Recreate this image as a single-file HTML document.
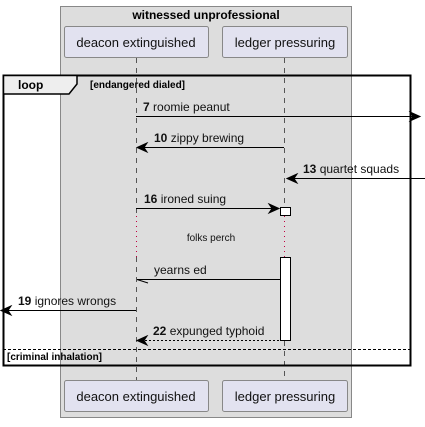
<!DOCTYPE html>
<html><head><style>body{margin:0;background:#fff}</style></head><body>
<svg width="425" height="422" xmlns="http://www.w3.org/2000/svg" font-family="Liberation Sans, sans-serif">
<rect x="60.5" y="6.5" width="291" height="411" fill="#dddddd" stroke="#888" stroke-width="1"/>
<text x="206" y="19" font-size="12" font-weight="bold" text-anchor="middle">witnessed unprofessional</text>
<rect x="64.5" y="26.5" width="144" height="31" rx="2" fill="#e2e2f0" stroke="#888"/>
<text x="136" y="47" font-size="13" text-anchor="middle" fill="#111">deacon extinguished</text>
<rect x="222.5" y="26.5" width="125" height="31" rx="2" fill="#e2e2f0" stroke="#888"/>
<text x="285" y="47" font-size="13" text-anchor="middle" fill="#111">ledger pressuring</text>
<rect x="64.5" y="380.5" width="144" height="31" rx="2" fill="#e2e2f0" stroke="#888"/>
<text x="136" y="401" font-size="13" text-anchor="middle" fill="#111">deacon extinguished</text>
<rect x="222.5" y="380.5" width="125" height="31" rx="2" fill="#e2e2f0" stroke="#888"/>
<text x="285" y="401" font-size="13" text-anchor="middle" fill="#111">ledger pressuring</text>
<g stroke="#555" stroke-dasharray="5,5">
<line x1="136.5" y1="58" x2="136.5" y2="215"/><line x1="136.5" y1="257" x2="136.5" y2="380"/>
<line x1="284.5" y1="58" x2="284.5" y2="207"/><line x1="284.5" y1="341" x2="284.5" y2="380"/>
</g>
<g stroke="#c00040" stroke-dasharray="1,4">
<line x1="136.5" y1="216" x2="136.5" y2="257"/><line x1="284.5" y1="216" x2="284.5" y2="257"/>
</g>
<rect x="3.5" y="75.5" width="407" height="290" fill="none" stroke="#000" stroke-width="2"/>
<path d="M3.5 75.5 H77 V84 L69 94 H3.5 Z" fill="#eee" stroke="#000" stroke-width="1.5"/>
<text x="18" y="89" font-size="12" font-weight="bold">loop</text>
<text x="90" y="88" font-size="10" font-weight="bold">[endangered dialed]</text>
<line x1="3" y1="349.5" x2="410" y2="349.5" stroke="#000" stroke-dasharray="3,2"/>
<text x="7" y="360" font-size="10" font-weight="bold">[criminal inhalation]</text>
<rect x="280.5" y="207.5" width="10" height="8" fill="#fff" stroke="#000"/>
<rect x="280.5" y="257.5" width="10" height="83" fill="#fff" stroke="#000"/>
<g stroke="#000" fill="none" font-size="12">
<line x1="136" y1="116.5" x2="420" y2="116.5"/><path d="M410 112 L420 116.5 L410 121 L413 116.5Z" fill="#000"/>
<line x1="137" y1="147.5" x2="284" y2="147.5"/><path d="M147 143 L137 147.5 L147 152 L144 147.5Z" fill="#000"/>
<line x1="287" y1="178.5" x2="425" y2="178.5"/><path d="M297 174 L287 178.5 L297 183 L294 178.5Z" fill="#000"/>
<line x1="136" y1="208.5" x2="279" y2="208.5"/><path d="M269 204 L279 208.5 L269 213 L272 208.5Z" fill="#000"/>
<line x1="137" y1="279.5" x2="280" y2="279.5"/><line x1="137" y1="279.5" x2="148" y2="283"/>
<line x1="1" y1="310.5" x2="136" y2="310.5"/><path d="M11 306 L1 310.5 L11 315 L8 310.5Z" fill="#000"/>
<line x1="137" y1="340.5" x2="280" y2="340.5" stroke-dasharray="2,2"/><path d="M147 336 L137 340.5 L147 345 L144 340.5Z" fill="#000"/>
</g>
<g font-size="12" fill="#111">
<text x="143" y="111"><tspan font-weight="bold">7</tspan> roomie peanut</text>
<text x="154" y="142"><tspan font-weight="bold">10</tspan> zippy brewing</text>
<text x="303" y="173"><tspan font-weight="bold">13</tspan> quartet squads</text>
<text x="144" y="203"><tspan font-weight="bold">16</tspan> ironed suing</text>
<text x="154" y="274">yearns ed</text>
<text x="18" y="305"><tspan font-weight="bold">19</tspan> ignores wrongs</text>
<text x="153" y="335"><tspan font-weight="bold">22</tspan> expunged typhoid</text>
<text x="211" y="241" font-size="10" text-anchor="middle">folks perch</text>
</g>
</svg>
</body></html>
